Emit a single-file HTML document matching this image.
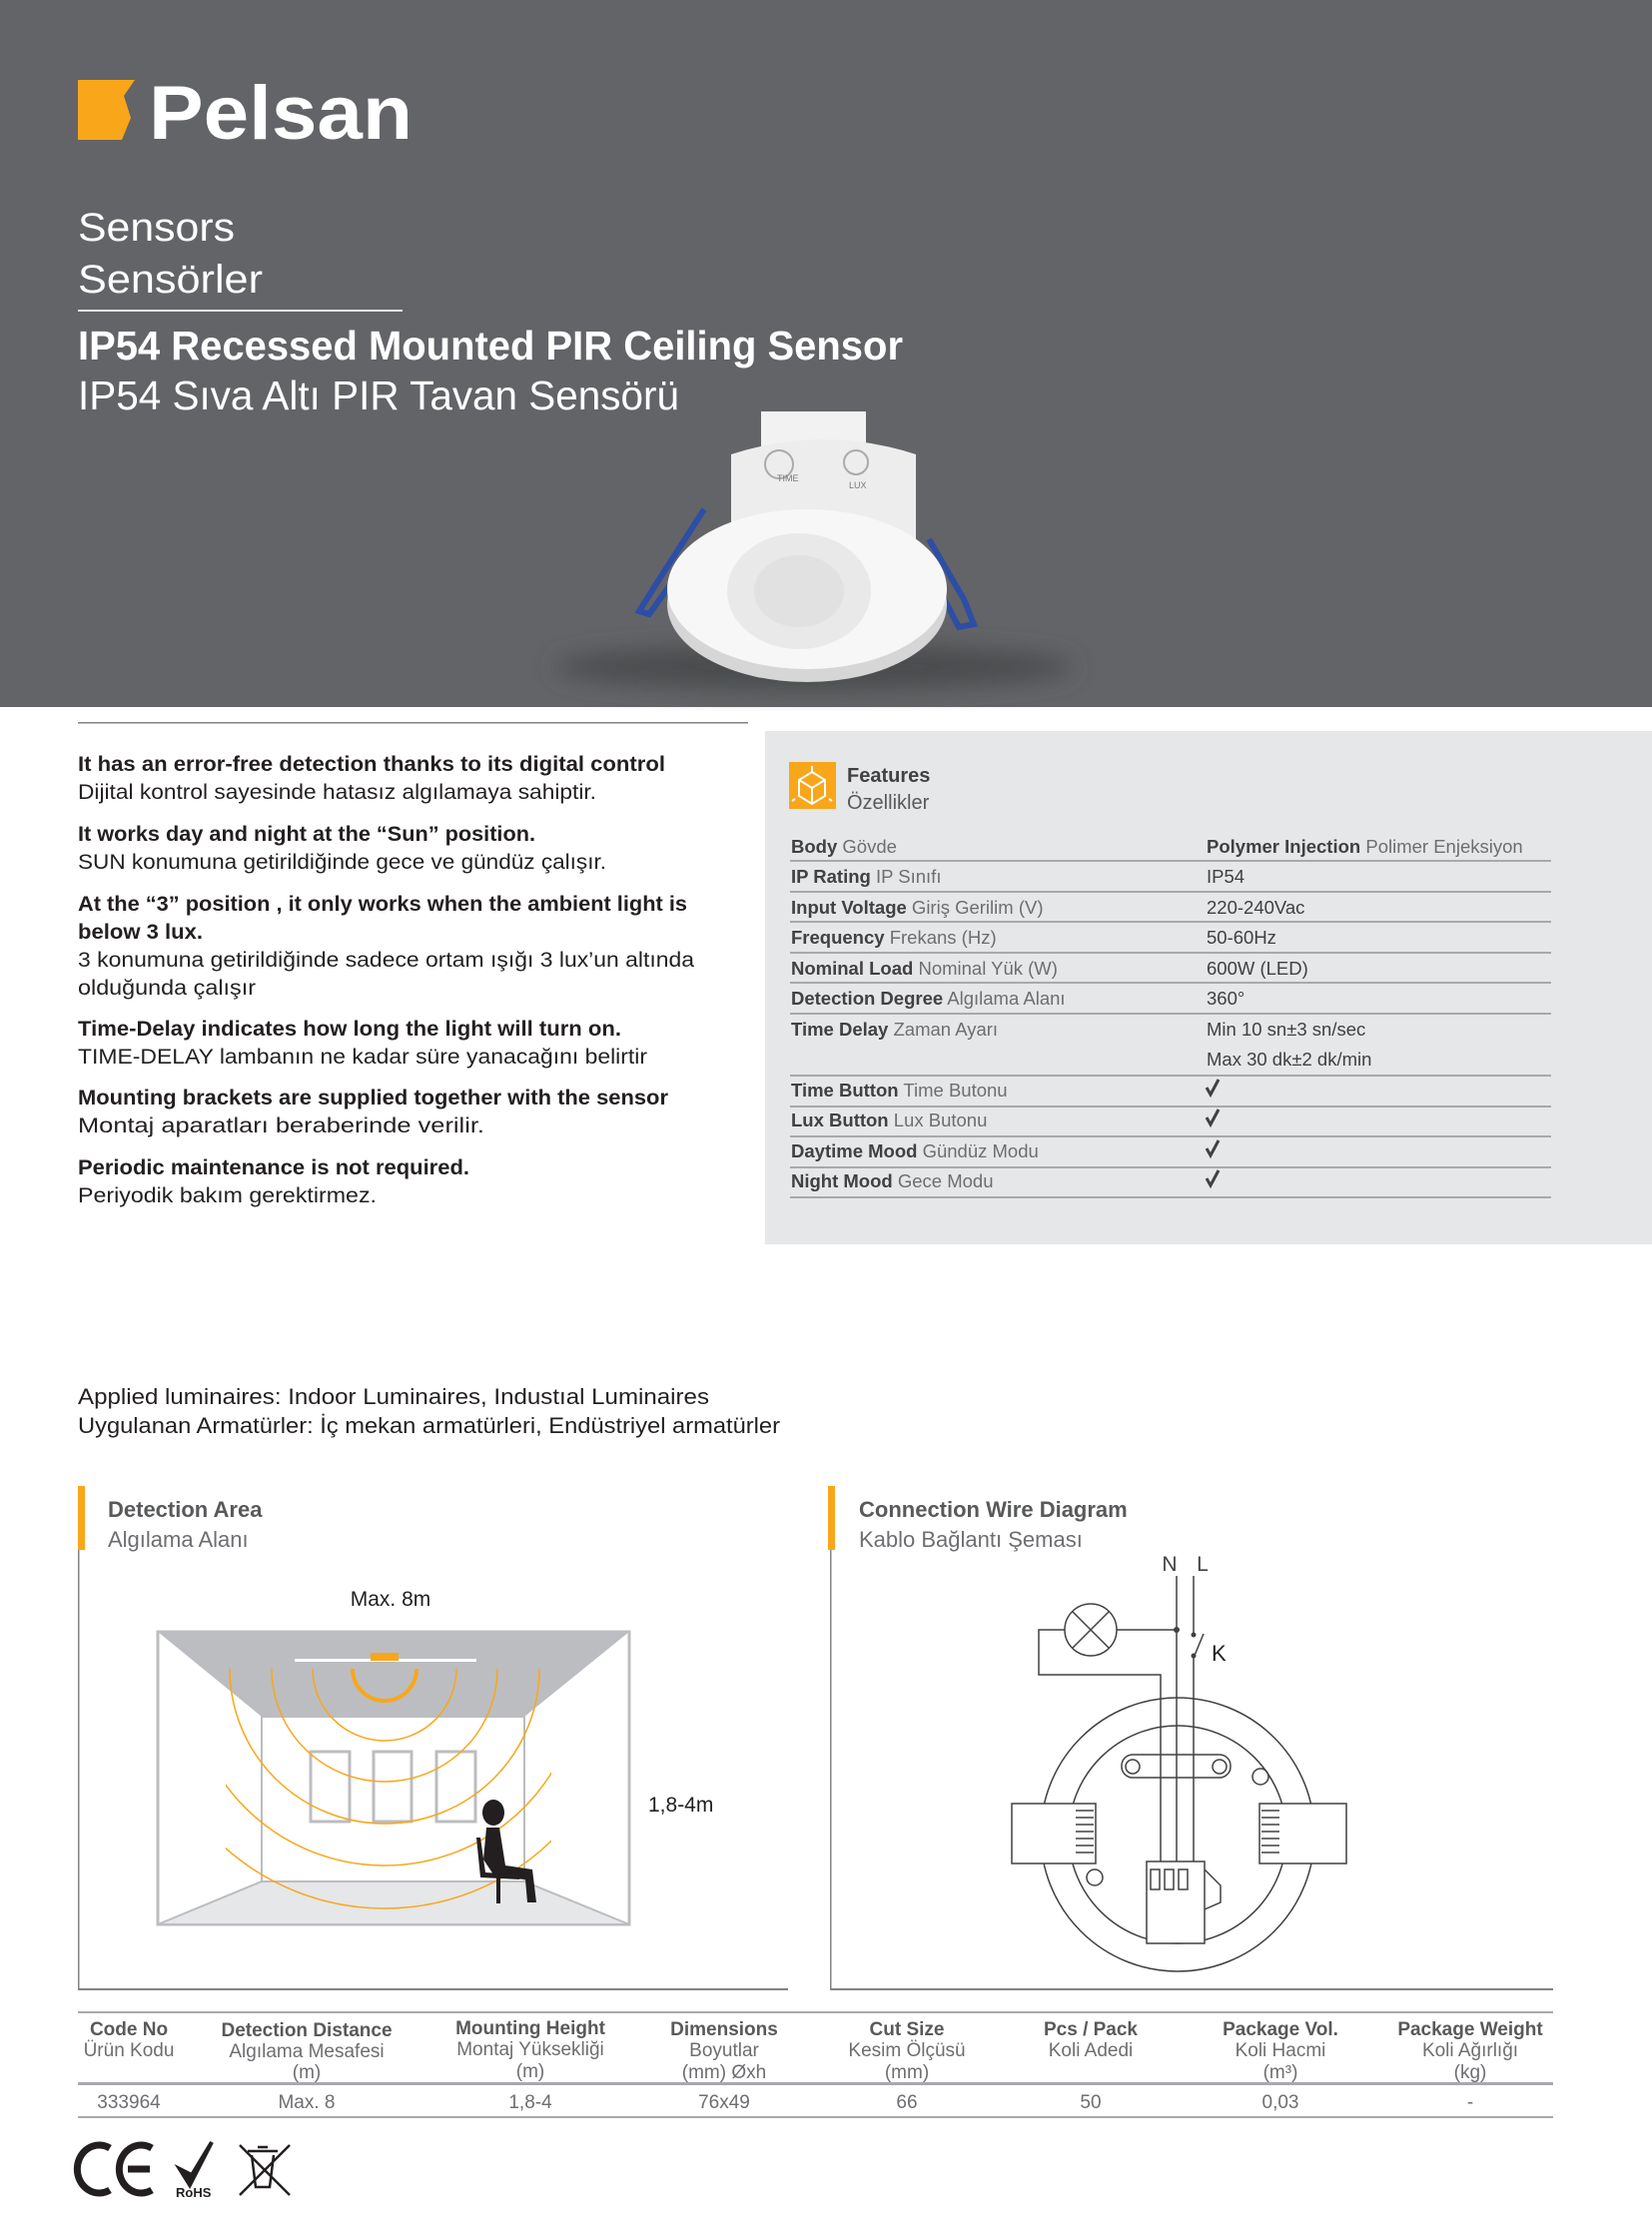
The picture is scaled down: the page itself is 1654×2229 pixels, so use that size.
<!DOCTYPE html>
<html><head><meta charset="utf-8"><style>
html,body{margin:0;padding:0;background:#fff}
svg{display:block}
text{font-family:"Liberation Sans",sans-serif}
</style></head><body>
<svg width="1654" height="2229" viewBox="0 0 1654 2229" xmlns="http://www.w3.org/2000/svg">
<defs>
<filter id="bl" x="-50%" y="-50%" width="200%" height="200%"><feGaussianBlur stdDeviation="12"/></filter>
<clipPath id="arcClip"><rect x="226" y="1671" width="326" height="256"/></clipPath>
</defs>
<!-- header -->
<rect x="0" y="0" width="1654" height="708" fill="#636467"/>
<path d="M78 80 H135 L124 96 L131 118 L122 140 H78 Z" fill="#f9a61a"/>
<text x="149" y="139" font-size="76" font-weight="bold" fill="#fff" textLength="264" lengthAdjust="spacingAndGlyphs">Pelsan</text>
<text x="78" y="241" font-size="40" fill="#fff" textLength="157" lengthAdjust="spacingAndGlyphs">Sensors</text>
<text x="78" y="293" font-size="40" fill="#fff" font-weight="300" textLength="185" lengthAdjust="spacingAndGlyphs">Sensörler</text>
<rect x="78" y="310" width="325" height="2" fill="#e6e6e6"/>
<text x="78" y="360" font-size="41" font-weight="bold" fill="#fff" textLength="826" lengthAdjust="spacingAndGlyphs">IP54 Recessed Mounted PIR Ceiling Sensor</text>
<text x="78" y="410" font-size="41" fill="#fff" textLength="602" lengthAdjust="spacingAndGlyphs">IP54 Sıva Altı PIR Tavan Sensörü</text>
<!-- product -->
<ellipse cx="815" cy="668" rx="260" ry="22" fill="#4a4b4d" filter="url(#bl)"/>
<rect x="762" y="412" width="105" height="40" fill="#f2f2f2"/>
<path d="M732 455 Q825 425 917 455 V570 H732 Z" fill="#ededed"/>
<circle cx="780" cy="465" r="14" fill="none" stroke="#aaa" stroke-width="2"/>
<circle cx="857" cy="463" r="12" fill="none" stroke="#aaa" stroke-width="2"/>
<text x="778" y="482" font-size="9" fill="#777">TIME</text>
<text x="850" y="489" font-size="9" fill="#777">LUX</text>
<polyline points="705,510 660,580 640,612 650,615 700,545" fill="none" stroke="#2d4ea6" stroke-width="6"/>
<polyline points="930,540 965,600 975,625 960,628 935,580" fill="none" stroke="#2d4ea6" stroke-width="6"/>
<ellipse cx="808" cy="605" rx="140" ry="78" fill="#d6d6d6"/>
<ellipse cx="808" cy="590" rx="140" ry="80" fill="#f7f7f7"/>
<ellipse cx="800" cy="592" rx="72" ry="58" fill="#e9e9e9"/>
<ellipse cx="800" cy="592" rx="45" ry="36" fill="#e1e1e1"/>
<!-- left list -->
<rect x="78" y="723" width="671" height="1.5" fill="#808285"/>
<g font-size="21" fill="#231f20" lengthAdjust="spacingAndGlyphs">
<text x="78" y="772" font-weight="bold" textLength="588" lengthAdjust="spacingAndGlyphs">It has an error-free detection thanks to its digital control</text>
<text x="78" y="800" textLength="519" lengthAdjust="spacingAndGlyphs">Dijital kontrol sayesinde hatasız algılamaya sahiptir.</text>
<text x="78" y="842" font-weight="bold" textLength="458" lengthAdjust="spacingAndGlyphs">It works day and night at the “Sun” position.</text>
<text x="78" y="870" textLength="529" lengthAdjust="spacingAndGlyphs">SUN konumuna getirildiğinde gece ve gündüz çalışır.</text>
<text x="78" y="912" font-weight="bold" textLength="610" lengthAdjust="spacingAndGlyphs">At the “3” position , it only works when the ambient light is</text>
<text x="78" y="940" font-weight="bold" textLength="125" lengthAdjust="spacingAndGlyphs">below 3 lux.</text>
<text x="78" y="968" textLength="617" lengthAdjust="spacingAndGlyphs">3 konumuna getirildiğinde sadece ortam ışığı 3 lux’un altında</text>
<text x="78" y="996" textLength="178" lengthAdjust="spacingAndGlyphs">olduğunda çalışır</text>
<text x="78" y="1037" font-weight="bold" textLength="544" lengthAdjust="spacingAndGlyphs">Time-Delay indicates how long the light will turn on.</text>
<text x="78" y="1065" textLength="570" lengthAdjust="spacingAndGlyphs">TIME-DELAY lambanın ne kadar süre yanacağını belirtir</text>
<text x="78" y="1106" font-weight="bold" textLength="591" lengthAdjust="spacingAndGlyphs">Mounting brackets are supplied together with the sensor</text>
<text x="78" y="1134" textLength="407" lengthAdjust="spacingAndGlyphs">Montaj aparatları beraberinde verilir.</text>
<text x="78" y="1176" font-weight="bold" textLength="392" lengthAdjust="spacingAndGlyphs">Periodic maintenance is not required.</text>
<text x="78" y="1204" textLength="299" lengthAdjust="spacingAndGlyphs">Periyodik bakım gerektirmez.</text>
</g>
<!-- features panel -->
<rect x="766" y="732" width="888" height="514" fill="#e6e7e8"/>
<rect x="790" y="763" width="47" height="47" fill="#f9a61a"/>
<g stroke="#fff" stroke-width="2" fill="none">
<path d="M813 773 L826 781 V797 L813 805 L800 797 V781 Z M800 781 L813 789 L826 781 M813 789 V805"/>
<path d="M813 767 V773 M796 800 L793 802 M830 800 L833 802"/>
</g>
<text x="848" y="783" font-size="20" font-weight="bold" fill="#414042">Features</text>
<text x="848" y="810" font-size="20" fill="#58595b">Özellikler</text>
<g font-size="18.5">
<text x="792" y="854"><tspan font-weight="bold" fill="#414042">Body</tspan><tspan fill="#6d6e71"> Gövde</tspan></text>
<text x="1208" y="854"><tspan font-weight="bold" fill="#414042">Polymer Injection</tspan><tspan fill="#6d6e71"> Polimer Enjeksiyon</tspan></text>
<text x="792" y="884"><tspan font-weight="bold" fill="#414042">IP Rating</tspan><tspan fill="#6d6e71">  IP Sınıfı</tspan></text>
<text x="1208" y="884" fill="#414042">IP54</text>
<text x="792" y="915"><tspan font-weight="bold" fill="#414042">Input Voltage</tspan><tspan fill="#6d6e71">  Giriş Gerilim (V)</tspan></text>
<text x="1208" y="915" fill="#414042">220-240Vac</text>
<text x="792" y="945"><tspan font-weight="bold" fill="#414042">Frequency</tspan><tspan fill="#6d6e71">  Frekans (Hz)</tspan></text>
<text x="1208" y="945" fill="#414042">50-60Hz</text>
<text x="792" y="976"><tspan font-weight="bold" fill="#414042">Nominal Load</tspan><tspan fill="#6d6e71">  Nominal Yük (W)</tspan></text>
<text x="1208" y="976" fill="#414042">600W (LED)</text>
<text x="792" y="1006"><tspan font-weight="bold" fill="#414042">Detection Degree</tspan><tspan fill="#6d6e71">  Algılama Alanı</tspan></text>
<text x="1208" y="1006" fill="#414042">360°</text>
<text x="792" y="1037"><tspan font-weight="bold" fill="#414042">Time Delay</tspan><tspan fill="#6d6e71">  Zaman Ayarı</tspan></text>
<text x="1208" y="1037" fill="#414042">Min 10 sn±3 sn/sec</text>
<text x="1208" y="1067" fill="#414042">Max 30 dk±2 dk/min</text>
<text x="792" y="1098"><tspan font-weight="bold" fill="#414042">Time Button</tspan><tspan fill="#6d6e71">  Time Butonu</tspan></text>
<text x="792" y="1128"><tspan font-weight="bold" fill="#414042">Lux Button</tspan><tspan fill="#6d6e71">  Lux Butonu</tspan></text>
<text x="792" y="1159"><tspan font-weight="bold" fill="#414042">Daytime Mood</tspan><tspan fill="#6d6e71"> Gündüz Modu</tspan></text>
<text x="792" y="1189"><tspan font-weight="bold" fill="#414042">Night Mood</tspan><tspan fill="#6d6e71">  Gece Modu</tspan></text>
</g>
<g fill="none" stroke="#414042" stroke-width="3">
<path d="M1208 1089 l4 7 l8 -15"/><path d="M1208 1119 l4 7 l8 -15"/><path d="M1208 1150 l4 7 l8 -15"/><path d="M1208 1180 l4 7 l8 -15"/>
</g>
<g fill="#a7a9ac">
<rect x="791" y="861" width="762" height="2"/><rect x="791" y="892" width="762" height="2"/><rect x="791" y="922" width="762" height="2"/><rect x="791" y="953" width="762" height="2"/><rect x="791" y="983" width="762" height="2"/><rect x="791" y="1014" width="762" height="2"/><rect x="791" y="1076" width="762" height="2"/><rect x="791" y="1107" width="762" height="2"/><rect x="791" y="1137" width="762" height="2"/><rect x="791" y="1168" width="762" height="2"/><rect x="791" y="1198" width="762" height="2"/>
</g>
<!-- applied -->
<text x="78" y="1406" font-size="22" fill="#231f20" textLength="632" lengthAdjust="spacingAndGlyphs">Applied luminaires: Indoor Luminaires, Industıal Luminaires</text>
<text x="78" y="1435" font-size="22" fill="#231f20" textLength="703" lengthAdjust="spacingAndGlyphs">Uygulanan Armatürler: İç mekan armatürleri, Endüstriyel armatürler</text>
<!-- section frames -->
<rect x="78" y="1488" width="7" height="64" fill="#f9a61a"/>
<rect x="78" y="1552" width="1.5" height="440" fill="#808285"/>
<rect x="78" y="1991" width="711" height="2" fill="#808285"/>
<text x="108" y="1519" font-size="22" font-weight="bold" fill="#58595b">Detection Area</text>
<text x="108" y="1549" font-size="22" fill="#6d6e71">Algılama Alanı</text>
<rect x="829" y="1488" width="7" height="64" fill="#f9a61a"/>
<rect x="831" y="1552" width="1.5" height="440" fill="#808285"/>
<rect x="831" y="1991" width="724" height="2" fill="#808285"/>
<text x="860" y="1519" font-size="22" font-weight="bold" fill="#58595b">Connection Wire Diagram</text>
<text x="860" y="1549" font-size="22" fill="#6d6e71">Kablo Bağlantı Şeması</text>
<!-- detection drawing -->
<text x="391" y="1608" font-size="21" fill="#231f20" text-anchor="middle">Max. 8m</text>
<text x="649" y="1814" font-size="21" fill="#231f20">1,8-4m</text>
<rect x="158" y="1634" width="472" height="293" fill="#fff" stroke="#bcbdc0" stroke-width="3"/>
<polygon points="158,1634 630,1634 525,1719 262,1719" fill="#bcbdc0"/>
<polygon points="262,1884 525,1884 630,1927 158,1927" fill="#e6e7e8" stroke="#bcbdc0" stroke-width="2"/>
<rect x="262" y="1719" width="263" height="165" fill="none" stroke="#bcbdc0" stroke-width="2"/>
<g fill="none" stroke="#bcbdc0" stroke-width="3">
<rect x="311" y="1754" width="39" height="70"/><rect x="374" y="1754" width="38" height="70"/><rect x="437" y="1754" width="39" height="70"/>
</g>
<rect x="295" y="1661" width="182" height="3" fill="#fff"/>
<rect x="371" y="1655" width="28" height="8" fill="#f9a61a"/>
<g clip-path="url(#arcClip)" fill="none" stroke="#f9a61a" stroke-width="1.5">
<path d="M313 1671 A72 72 0 0 0 457 1671"/>
<path d="M272 1671 A113 113 0 0 0 498 1671"/>
<path d="M230 1671 A155 155 0 0 0 540 1671"/>
<path d="M188 1671 A197 197 0 0 0 582 1671"/>
<path d="M145 1671 A240 240 0 0 0 625 1671"/>
</g>
<path d="M353 1671 A32 32 0 0 0 417 1671" fill="none" stroke="#f9a61a" stroke-width="4"/>
<!-- person -->
<g fill="#231f20">
<ellipse cx="494" cy="1815" rx="11" ry="13"/>
<path d="M487 1830 L500 1830 L506 1868 L533 1872 L537 1905 L528 1905 L526 1882 L496 1880 L484 1862 Z"/>
<rect x="497" y="1880" width="4" height="26"/>
<path d="M477 1840 L481 1840 L486 1875 L520 1877 L520 1882 L481 1880 Z"/>
</g>
<!-- wire diagram -->
<text x="1171" y="1573" font-size="21" fill="#414042" text-anchor="middle">N</text>
<text x="1204" y="1573" font-size="21" fill="#414042" text-anchor="middle">L</text>
<text x="1213" y="1663" font-size="22" fill="#231f20">K</text>
<g fill="none" stroke="#414042" stroke-width="1.5">
<line x1="1178" y1="1578" x2="1178" y2="1945"/>
<line x1="1195" y1="1578" x2="1195" y2="1637"/>
<line x1="1195" y1="1658" x2="1195" y2="1945"/>
<line x1="1195" y1="1660" x2="1205" y2="1636"/>
<circle cx="1092" cy="1632" r="26"/>
<line x1="1074" y1="1614" x2="1110" y2="1650"/><line x1="1110" y1="1614" x2="1074" y2="1650"/>
<line x1="1118" y1="1632" x2="1178" y2="1632"/>
<polyline points="1066,1632 1040,1632 1040,1677 1162,1677 1162,1945"/>
<circle cx="1179" cy="1837" r="137"/>
<circle cx="1179" cy="1837" r="109"/>
<rect x="1013" y="1806" width="84" height="60" fill="#fff"/>
<rect x="1261" y="1806" width="87" height="60" fill="#fff"/>
<rect x="1123" y="1757" width="109" height="23" rx="11"/>
<circle cx="1134" cy="1769" r="7"/><circle cx="1221" cy="1769" r="7"/>
<circle cx="1262" cy="1779" r="8"/><circle cx="1096" cy="1880" r="8"/>
<rect x="1148" y="1864" width="58" height="82" fill="#fff"/>
<rect x="1152" y="1872" width="9" height="20"/><rect x="1166" y="1872" width="9" height="20"/><rect x="1180" y="1872" width="9" height="20"/>
<path d="M1206 1872 L1214 1880 L1222 1888 L1222 1905 L1206 1912"/>
</g>
<g stroke="#414042" stroke-width="1.5">
<path d="M1077 1813 h18 M1077 1820 h18 M1077 1827 h18 M1077 1834 h18 M1077 1841 h18 M1077 1848 h18 M1077 1855 h18"/>
<path d="M1263 1813 h18 M1263 1820 h18 M1263 1827 h18 M1263 1834 h18 M1263 1841 h18 M1263 1848 h18 M1263 1855 h18"/>
</g>
<circle cx="1178" cy="1632" r="3" fill="#414042"/>
<circle cx="1195" cy="1637" r="2.5" fill="#414042"/>
<circle cx="1195" cy="1658" r="2.5" fill="#414042"/>
<!-- bottom table -->
<rect x="78" y="2014" width="1477" height="2" fill="#a7a9ac"/>
<rect x="78" y="2085" width="1477" height="3" fill="#a7a9ac"/>
<rect x="78" y="2119" width="1477" height="2" fill="#a7a9ac"/>
<g font-size="19" text-anchor="middle">
<g font-weight="bold" fill="#58595b">
<text x="129" y="2038">Code No</text><text x="307" y="2039">Detection Distance</text><text x="531" y="2037">Mounting Height</text><text x="725" y="2038">Dimensions</text><text x="908" y="2038">Cut Size</text><text x="1092" y="2038">Pcs / Pack</text><text x="1282" y="2038">Package Vol.</text><text x="1472" y="2038">Package Weight</text>
</g>
<g fill="#6d6e71">
<text x="129" y="2059">Ürün Kodu</text><text x="307" y="2060">Algılama Mesafesi</text><text x="531" y="2058">Montaj Yüksekliği</text><text x="725" y="2059">Boyutlar</text><text x="908" y="2059">Kesim Ölçüsü</text><text x="1092" y="2059">Koli Adedi</text><text x="1282" y="2059">Koli Hacmi</text><text x="1472" y="2059">Koli Ağırlığı</text>
<text x="307" y="2081">(m)</text><text x="531" y="2080">(m)</text><text x="725" y="2081">(mm) Øxh</text><text x="908" y="2081">(mm)</text><text x="1282" y="2081">(m³)</text><text x="1472" y="2081">(kg)</text>
<text x="129" y="2111">333964</text><text x="307" y="2111">Max. 8</text><text x="531" y="2111">1,8-4</text><text x="725" y="2111">76x49</text><text x="908" y="2111">66</text><text x="1092" y="2111">50</text><text x="1282" y="2111">0,03</text><text x="1472" y="2111">-</text>
</g>
</g>
<!-- certifications -->
<g fill="none" stroke="#231f20" stroke-width="7">
<path d="M110 2151 A22 24 0 1 0 110 2193"/>
<path d="M152 2151 A22 24 0 1 0 152 2193 M128 2172 h22"/>
</g>
<path d="M180 2172 L190 2188 L212 2145 L192 2178 Z" fill="#231f20" stroke="#231f20" stroke-width="4"/>
<text x="176" y="2200" font-size="13" font-weight="bold" fill="#231f20">RoHS</text>
<g fill="none" stroke="#231f20" stroke-width="2.5">
<path d="M248 2154 h30 M252 2158 L256 2190 h14 L274 2158 M258 2150 h10"/>
<line x1="240" y1="2148" x2="290" y2="2198"/><line x1="290" y1="2148" x2="240" y2="2198"/>
</g>
</svg>
</body></html>
